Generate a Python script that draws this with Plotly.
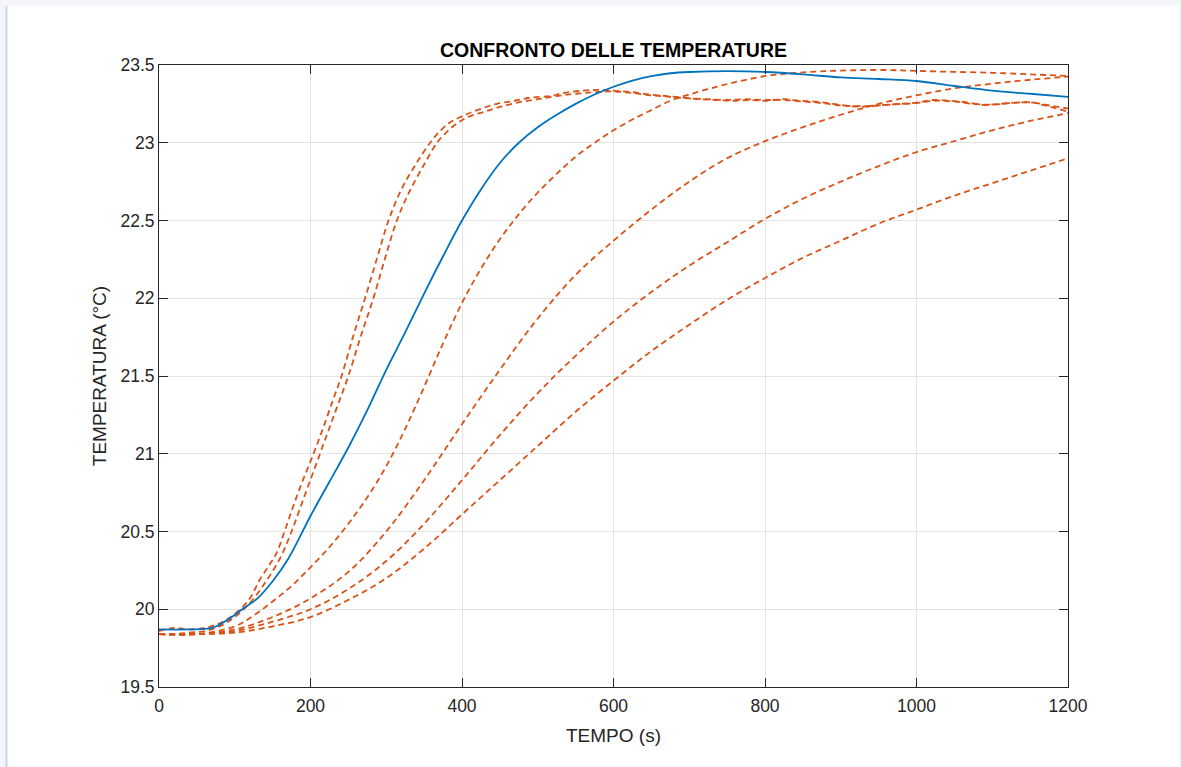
import plotly.graph_objects as go

# --- measured room temperature (solid) ---
t_meas = [0, 40, 70, 90, 110, 130, 150, 170, 200, 225, 250, 275, 300, 325, 350, 375, 400,
          425, 450, 475, 500, 525, 550, 575, 600, 625, 650, 675, 700, 750, 800, 850, 900, 950,
          1000, 1050, 1100, 1150, 1200]
T_meas = [19.87, 19.87, 19.88, 19.93, 20.00, 20.07, 20.18, 20.32, 20.60, 20.82, 21.04, 21.28,
          21.54, 21.78, 22.03, 22.27, 22.50, 22.70, 22.87, 23.00, 23.10, 23.18, 23.25, 23.31,
          23.36, 23.40, 23.428, 23.447, 23.455, 23.46, 23.455, 23.44, 23.42, 23.41, 23.397,
          23.365, 23.335, 23.315, 23.295]

# --- simulated responses (dashed) ---
t_s1 = [0, 20, 40, 60, 80, 100, 120, 133, 145, 155, 165, 177, 190, 204, 217, 230, 241, 256,
        272, 288, 303, 320, 340, 358, 370, 384, 400, 420, 446, 470, 490, 516, 534, 560, 580,
        604, 625, 648, 670, 692, 715, 736, 760, 780, 800, 824, 846, 868, 890, 912, 934, 956,
        978, 1000, 1022, 1044, 1066, 1088, 1110, 1132, 1154, 1176, 1200]
T_s1 = [19.86, 19.88, 19.87, 19.88, 19.91, 19.97, 20.07, 20.19, 20.28, 20.36, 20.49, 20.66,
        20.83, 21.00, 21.17, 21.35, 21.50, 21.75, 22.00, 22.26, 22.50, 22.70, 22.87, 23.00,
        23.07, 23.13, 23.17, 23.21, 23.25, 23.27, 23.29, 23.30, 23.32, 23.335, 23.34, 23.333,
        23.325, 23.31, 23.30, 23.29, 23.28, 23.275, 23.27, 23.275, 23.27, 23.28, 23.27, 23.264,
        23.25, 23.236, 23.232, 23.243, 23.25, 23.258, 23.275, 23.27, 23.26, 23.243, 23.25,
        23.258, 23.258, 23.232, 23.20]

t_s2 = [0, 20, 40, 60, 80, 100, 120, 140, 160, 175, 190, 205, 220, 235, 250, 266, 283, 298,
        314, 330, 350, 367, 380, 395, 410, 430, 450, 475, 500, 525, 550, 575, 600, 625, 650,
        675, 700, 725, 750, 775, 800, 825, 850, 875, 900, 925, 950, 975, 1000, 1025, 1050,
        1075, 1100, 1125, 1150, 1175, 1200]
T_s2 = [19.84, 19.84, 19.85, 19.86, 19.89, 19.95, 20.04, 20.17, 20.33, 20.50, 20.70, 20.90,
        21.10, 21.30, 21.50, 21.75, 22.00, 22.25, 22.50, 22.68, 22.86, 23.00, 23.07, 23.13,
        23.17, 23.20, 23.23, 23.26, 23.28, 23.30, 23.315, 23.325, 23.33, 23.32, 23.305, 23.295,
        23.285, 23.28, 23.275, 23.28, 23.275, 23.275, 23.265, 23.255, 23.24, 23.235, 23.24,
        23.248, 23.255, 23.27, 23.265, 23.25, 23.245, 23.255, 23.26, 23.24, 23.22]

t_c = [0, 50, 100, 125, 150, 175, 200, 225, 250, 275, 300, 325, 350, 375, 400, 425, 450, 475,
       500, 525, 550, 575, 600, 625, 650, 675, 700, 736, 770, 802, 835, 868, 900, 956, 1000,
       1050, 1100, 1150, 1200]
T_c = [19.84, 19.84, 19.89, 19.96, 20.05, 20.15, 20.27, 20.40, 20.55, 20.72, 20.92, 21.16,
       21.43, 21.71, 21.97, 22.19, 22.38, 22.54, 22.68, 22.80, 22.91, 23.00, 23.08, 23.15,
       23.21, 23.27, 23.31, 23.36, 23.40, 23.43, 23.447, 23.458, 23.464, 23.468, 23.462,
       23.456, 23.45, 23.44, 23.43]

t_d = [0, 50, 100, 150, 200, 250, 300, 350, 400, 450, 500, 550, 600, 650, 700, 750, 800, 850,
       900, 950, 1000, 1050, 1100, 1150, 1200]
T_d = [19.84, 19.84, 19.87, 19.95, 20.07, 20.24, 20.50, 20.83, 21.19, 21.54, 21.87, 22.15,
       22.37, 22.57, 22.75, 22.90, 23.01, 23.10, 23.18, 23.25, 23.305, 23.35, 23.38, 23.405,
       23.425]

t_e = [0, 50, 100, 150, 200, 250, 300, 350, 400, 450, 500, 550, 600, 650, 700, 750, 800, 850,
       900, 950, 1000, 1050, 1100, 1150, 1200]
T_e = [19.84, 19.84, 19.86, 19.92, 20.00, 20.13, 20.31, 20.55, 20.83, 21.12, 21.39, 21.63,
       21.85, 22.04, 22.21, 22.36, 22.51, 22.64, 22.75, 22.85, 22.94, 23.01, 23.08, 23.14,
       23.19]

t_f = [0, 50, 100, 150, 200, 250, 300, 350, 400, 450, 500, 550, 600, 650, 700, 750, 800, 850,
       900, 950, 1000, 1050, 1100, 1150, 1200]
T_f = [19.84, 19.84, 19.85, 19.89, 19.95, 20.06, 20.20, 20.39, 20.61, 20.83, 21.05, 21.27,
       21.47, 21.66, 21.83, 21.99, 22.13, 22.26, 22.37, 22.48, 22.57, 22.66, 22.74, 22.82,
       22.90]

x_ticks = [0, 200, 400, 600, 800, 1000, 1200]
y_ticks = [19.5, 20, 20.5, 21, 21.5, 22, 22.5, 23, 23.5]
y_tick_text = ["19.5", "20", "20.5", "21", "21.5", "22", "22.5", "23", "23.5"]

BLUE = "#0072BD"
ORANGE = "#D95319"
INK = "#262626"
FONT = "Liberation Sans, Arial, sans-serif"

fig = go.Figure()

for tt, vv in [(t_s1, T_s1), (t_s2, T_s2), (t_c, T_c), (t_d, T_d), (t_e, T_e), (t_f, T_f)]:
    fig.add_trace(go.Scatter(x=tt, y=vv, mode="lines",
                             line=dict(color=ORANGE, width=1.8, dash="6px,4px", shape="spline",
                                       smoothing=1.0),
                             showlegend=False, hoverinfo="skip"))

fig.add_trace(go.Scatter(x=t_meas, y=T_meas, mode="lines",
                         line=dict(color=BLUE, width=1.8, shape="spline", smoothing=1.0),
                         showlegend=False, hoverinfo="skip"))

# plot area spans 159..1068 px horizontally and 65..687 px vertically
L, R, TOP, BOT, W, H = 159, 1068, 65, 687, 1181, 767
pw, ph = R - L, BOT - TOP


def px(x):
    return (x - L) / pw


def py(y):
    return (BOT - y) / ph


fig.update_layout(
    width=W, height=H,
    margin=dict(l=L, r=W - R, t=TOP, b=H - BOT, pad=0),
    paper_bgcolor="#f4f6fa",
    plot_bgcolor="white",
    font=dict(family=FONT, color=INK, size=17.5),
    title=dict(text="<b>CONFRONTO DELLE TEMPERATURE</b>", x=0.5, xref="paper",
               y=1 - 50 / H, yref="container", yanchor="middle", xanchor="center",
               font=dict(family=FONT, size=19.5, color="black")),
    shapes=[
        dict(type="rect", xref="paper", yref="paper", x0=px(7), x1=px(1179), y0=py(H + 5),
             y1=py(6), fillcolor="white", line=dict(width=0), layer="below"),
        dict(type="line", xref="paper", yref="paper", x0=px(6.5), x1=px(6.5), y0=py(H + 5),
             y1=py(6), line=dict(color="#cad8ee", width=2), layer="below"),
    ],
)

fig.update_xaxes(
    range=[0, 1200], tickvals=x_ticks, ticks="inside", ticklen=9, tickcolor=INK,
    showline=True, linecolor=INK, linewidth=1, mirror="ticks",
    showgrid=True, gridcolor="#e3e3e3", gridwidth=1, zeroline=False,
    tickfont=dict(size=17.5, color=INK), ticklabelstandoff=3,
    title=dict(text="TEMPO (s)", font=dict(size=19, color=INK), standoff=13),
)
fig.update_yaxes(
    range=[19.5, 23.5], tickvals=y_ticks, ticktext=y_tick_text, ticks="inside", ticklen=9,
    tickcolor=INK, showline=True, linecolor=INK, linewidth=1, mirror="ticks",
    showgrid=True, gridcolor="#e3e3e3", gridwidth=1, zeroline=False,
    tickfont=dict(size=17.5, color=INK),
    title=dict(text="TEMPERATURA (°C)", font=dict(size=19, color=INK), standoff=8),
)

fig.write_html("out.html")
